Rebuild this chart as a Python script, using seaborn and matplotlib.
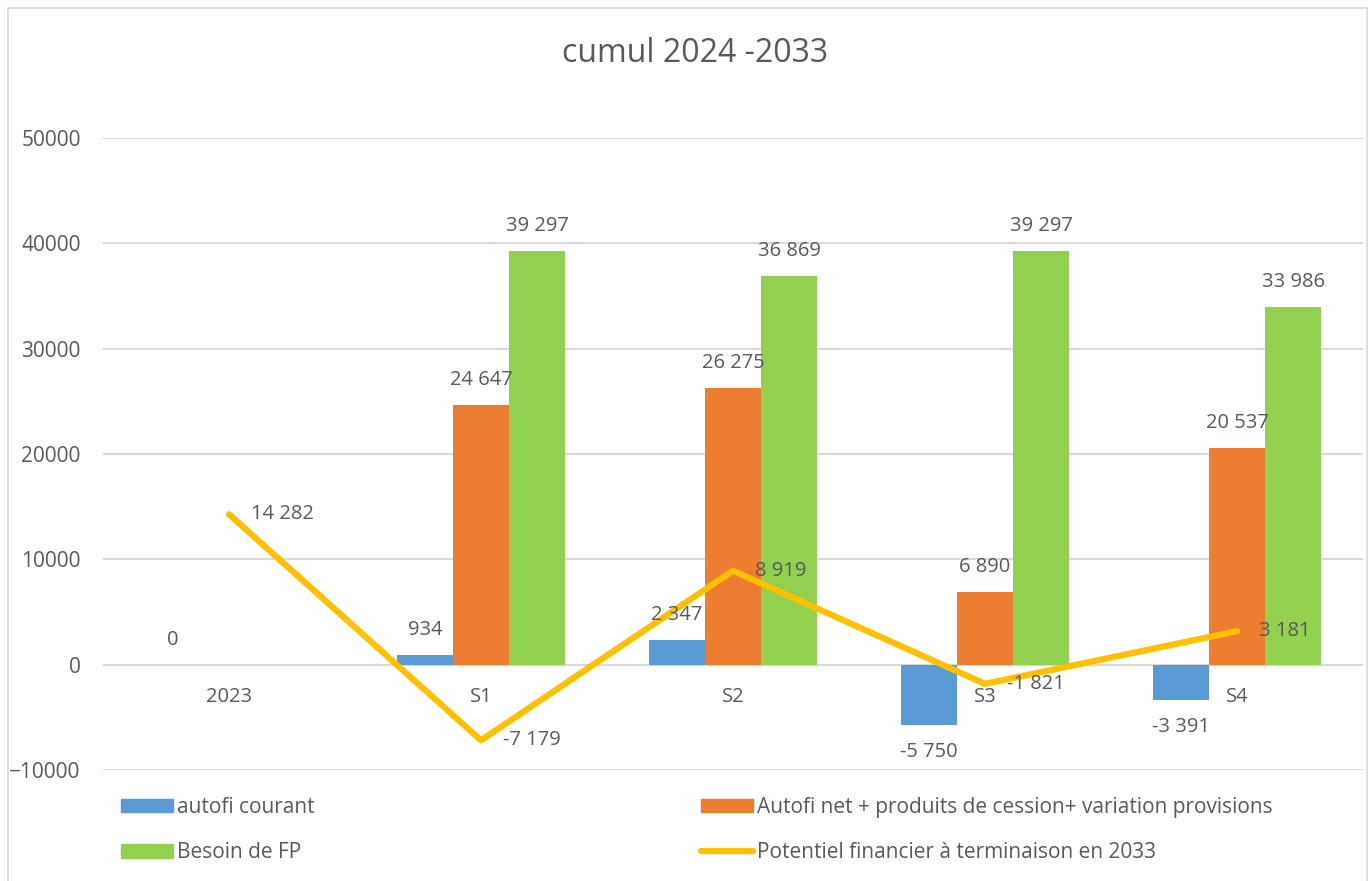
import numpy as np
import pandas as pd
import matplotlib
matplotlib.use("Agg")
import matplotlib.pyplot as plt
import matplotlib.patches as mpatches
import matplotlib.lines as mlines
import seaborn as sns

# Données
categories = ["2023", "S1", "S2", "S3", "S4"]
autofi_courant = [0, 934, 2347, -5750, -3391]
autofi_net = [np.nan, 24647, 26275, 6890, 20537]
besoin_fp = [np.nan, 39297, 36869, 39297, 33986]
potentiel = [14282, -7179, 8919, -1821, 3181]

series_names = ["autofi courant",
                "Autofi net + produits de cession+ variation provisions",
                "Besoin de FP"]
line_name = "Potentiel financier à terminaison en 2033"
couleurs = ["#5B9BD5", "#ED7D31", "#92D050"]
jaune = "#FFC000"
gris_texte = "#595959"
gris_grille = "#D9D9D9"

sns.set_theme(style="white")
plt.rcParams["font.family"] = ["Open Sans", "DejaVu Sans"]

df = pd.DataFrame({
    "categorie": categories * 3,
    "serie": [series_names[0]] * 5 + [series_names[1]] * 5 + [series_names[2]] * 5,
    "valeur": autofi_courant + autofi_net + besoin_fp,
})

fig = plt.figure(figsize=(13.7, 8.81), dpi=100)
ax = fig.add_axes([103 / 1370, 1 - 770 / 881, 1260 / 1370, (770 - 138) / 881])

sns.barplot(data=df, x="categorie", y="valeur", hue="serie", order=categories,
            hue_order=series_names, palette=couleurs, width=0.667,
            saturation=1, legend=False, ax=ax, errorbar=None, linewidth=0)

x_pos = np.arange(len(categories))
sns.lineplot(x=x_pos, y=potentiel, color=jaune, linewidth=4.5, ax=ax,
             legend=False)

ax.set_xlim(-0.5, len(categories) - 0.5)
ax.set_ylim(-10000, 50000)
ax.set_yticks(np.arange(-10000, 50001, 10000))
ax.yaxis.grid(True, color=gris_grille, linewidth=1.5)
ax.set_axisbelow(True)
for s in ax.spines.values():
    s.set_visible(False)
ax.tick_params(axis="y", length=0, pad=16, labelsize=15, labelcolor=gris_texte)
ax.set_xticks([])
ax.set_xlabel("")
ax.set_ylabel("")

fs = 14.5


def fmt(v):
    return f"{v:,.0f}".replace(",", " ")


# étiquettes des catégories sous l'axe zéro
for i, c in enumerate(categories):
    ax.annotate(c, (i, 0), xytext=(0, -23), textcoords="offset points",
                ha="center", va="center", fontsize=fs, color=gris_texte)

# étiquettes des barres
bw = 0.667 / 3
for k, vals in enumerate([autofi_courant, autofi_net, besoin_fp]):
    for i, v in enumerate(vals):
        if np.isnan(v):
            continue
        xc = i - 0.667 / 2 + bw * (k + 0.5)
        dy = 18 if v >= 0 else -19.5
        ax.annotate(fmt(v), (xc, v), xytext=(0, dy), textcoords="offset points",
                    ha="center", va="center", fontsize=fs, color=gris_texte)

# étiquettes de la ligne
for i, v in enumerate(potentiel):
    ax.annotate(fmt(v), (i, v), xytext=(16, 0), textcoords="offset points",
                ha="left", va="center", fontsize=fs, color=gris_texte)

fig.text(0.507, 1 - 54 / 881, "cumul 2024 -2033", ha="center", va="center",
         fontsize=23, color=gris_texte)

# légendes
h_bleu = mpatches.Patch(color=couleurs[0], label=series_names[0])
h_orange = mpatches.Patch(color=couleurs[1], label=series_names[1])
h_vert = mpatches.Patch(color=couleurs[2], label=series_names[2])
h_ligne = mlines.Line2D([], [], color=jaune, linewidth=4.5, label=line_name)

opts = dict(loc="upper left", frameon=False, fontsize=15, labelcolor=gris_texte,
            handlelength=2.5, handleheight=0.62, handletextpad=0.2,
            labelspacing=1.16, borderpad=0, borderaxespad=0)
leg1 = fig.legend(handles=[h_bleu, h_vert],
                  bbox_to_anchor=(121 / 1370, 1 - 797 / 881), **opts)
leg2 = fig.legend(handles=[h_orange, h_ligne],
                  bbox_to_anchor=(701 / 1370, 1 - 797 / 881), **opts)

# cadre du graphique
fig.patches.append(mpatches.Rectangle((8 / 1370, -0.01), 1359 / 1370, 1 - 8 / 881 + 0.01,
                                      transform=fig.transFigure, fill=False,
                                      edgecolor=gris_grille, linewidth=1.2))

fig.savefig("out.png", dpi=100)
